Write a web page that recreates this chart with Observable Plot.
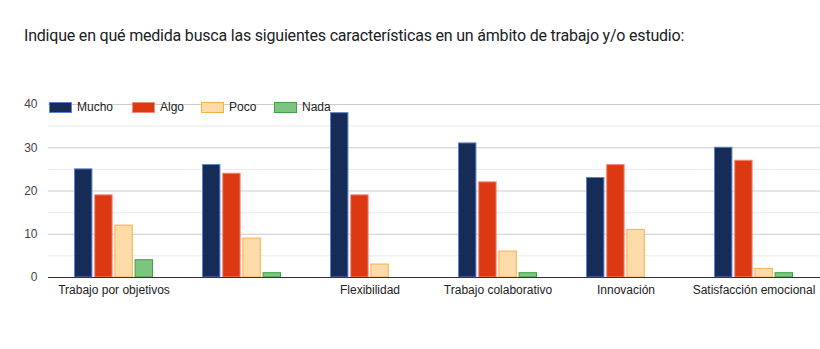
<!DOCTYPE html>
<html>
<head>
<meta charset="utf-8">
<script src="https://cdn.jsdelivr.net/npm/d3@7"></script>
<script src="https://cdn.jsdelivr.net/npm/@observablehq/plot@0.6"></script>
<style>
  body { margin: 0; background: #fff; }
  #wrap { position: relative; width: 820px; height: 349px; overflow: hidden; }
  #title { position: absolute; left: 24px; top: 26px; font-family: Roboto, sans-serif; font-size: 16px; letter-spacing: -0.2px; line-height: 20px; color: #202124; white-space: nowrap; }
  #legend { position: absolute; left: 0; top: 100px; font-family: Arial, "Liberation Sans", sans-serif; font-size: 12px; color: #222; }
  .item { position: absolute; top: 0; height: 14px; line-height: 14px; white-space: nowrap; }
  .sw { position: absolute; top: 2px; left: 0; width: 21px; height: 9px; border: 1px solid; }
  .lab { position: absolute; top: 0; }
  svg { position: absolute; left: 0; top: 0; }
</style>
</head>
<body>
<div id="wrap">
  <div id="title">Indique en qué medida busca las siguientes características en un ámbito de trabajo y/o estudio:</div>
</div>
<script>
const categories = [0, 1, 2, 3, 4, 5];
const tickLabels = ["Trabajo por objetivos", "", "Flexibilidad", "Trabajo colaborativo", "Innovación", "Satisfacción emocional"];
const series = ["Mucho", "Algo", "Poco", "Nada"];
const mucho = [25, 26, 38, 31, 23, 30];
const algo  = [19, 24, 19, 22, 26, 27];
const poco  = [12, 9, 3, 6, 11, 2];
const nada  = [4, 1, 0, 1, 0, 1];
const yTicks = [0, 10, 20, 30, 40];

const fills   = ["#172b57", "#dc3912", "#fddcaa", "#7cc47f"];
const strokes = ["#5a82cf", "#f08c78", "#f6b04a", "#43a047"];
const valuesBySeries = [mucho, algo, poco, nada];

const W = 820, ML = 48, MR = 0;
const padInner = 0.38, padOuter = 0.19;
// bandwidth of the category band scale, used to split each band into 4 bars
const step = (W - ML - MR) / (categories.length - padInner + 2 * padOuter);
const bw = step * (1 - padInner);
const gap = 1;
const barW = (bw - gap * (series.length - 1)) / series.length;

const barMarks = series.map((s, j) => Plot.barY(
  categories.map((c, i) => ({cat: c, series: s, value: valuesBySeries[j][i]})).filter(d => d.value > 0),
  {
    x: "cat", y: "value",
    fill: fills[j], stroke: strokes[j], strokeWidth: 1,
    insetLeft: j * (barW + gap) + 0.5,
    insetRight: (series.length - 1 - j) * (barW + gap) + 0.5
  }));

const chart = Plot.plot({
  width: W,
  height: 349,
  marginTop: 104,
  marginBottom: 72,
  marginLeft: ML,
  marginRight: MR,
  style: {fontFamily: "Arial, 'Liberation Sans', sans-serif", fontSize: "12px", color: "#444", background: "transparent"},
  x: {domain: categories, paddingInner: padInner, paddingOuter: padOuter, label: null},
  y: {domain: [0, 40], label: null},
  marks: [
    Plot.ruleY([5, 15, 25, 35], {stroke: "#ebebeb"}),
    Plot.ruleY([10, 20, 30, 40], {stroke: "#cccccc"}),
    Plot.axisY({ticks: yTicks, tickSize: 0, tickPadding: 11, fill: "#444", fontSize: 12, label: null}),
    ...barMarks,
    Plot.ruleY([0], {stroke: "#333", strokeWidth: 1.2}),
    Plot.axisX({tickSize: 0, tickPadding: 8, tickFormat: i => tickLabels[i], fill: "#222", fontSize: 12, label: null})
  ]
});
document.getElementById("wrap").appendChild(chart);

// legend
const legend = document.createElement("div");
legend.id = "legend";
const lx = [49, 132, 201, 274];
series.forEach((s, j) => {
  const it = document.createElement("div");
  it.className = "item";
  it.style.left = lx[j] + "px";
  const sw = document.createElement("div");
  sw.className = "sw";
  sw.style.background = fills[j];
  sw.style.borderColor = strokes[j];
  const lab = document.createElement("span");
  lab.className = "lab";
  lab.style.left = "28px";
  lab.textContent = s;
  it.appendChild(sw); it.appendChild(lab);
  legend.appendChild(it);
});
document.getElementById("wrap").appendChild(legend);
</script>
</body>
</html>
